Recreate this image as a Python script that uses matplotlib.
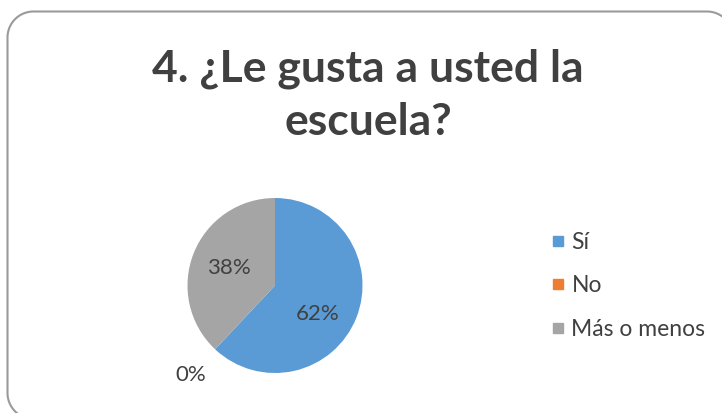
import numpy as np
import matplotlib
matplotlib.use("Agg")
import matplotlib.pyplot as plt
from matplotlib.path import Path
from matplotlib.patches import PathPatch
from matplotlib.lines import Line2D

title = "4. ¿Le gusta a usted la\nescuela?"
categories = ["Sí", "No", "Más o menos"]
values = [62, 0, 38]
labels_pct = ["62%", "0%", "38%"]
colors = ["#5B9BD5", "#ED7D31", "#A5A5A5"]

W, H = 722, 413
fig = plt.figure(figsize=(W / 100, H / 100), dpi=100)
fig.patch.set_facecolor("white")
FONT = "Lato"
TXT = "#404040"


def rounded_rect(x0, y0, x1, y1, rad, n=24):
    # pixel coords, y measured downward from top
    pts = []
    corners = [(x1 - rad, y0 + rad, -90, 0), (x1 - rad, y1 - rad, 0, 90),
               (x0 + rad, y1 - rad, 90, 180), (x0 + rad, y0 + rad, 180, 270)]
    for cxp, cyp, a0, a1 in corners:
        t = np.deg2rad(np.linspace(a0, a1, n))
        pts.extend(zip(cxp + rad * np.cos(t), cyp + rad * np.sin(t)))
    pts.append(pts[0])
    return Path(np.array(pts))


# background axes in pixel units for the rounded chart border
bg = fig.add_axes([0, 0, 1, 1])
bg.set_xlim(0, W)
bg.set_ylim(H, 0)
bg.axis("off")
bg.add_patch(PathPatch(rounded_rect(7.5, 11.5, 733, 419, 26),
                       facecolor="none", edgecolor="#9a9a9a", linewidth=1.5,
                       clip_on=True))

fig.text(368 / W, 1 - 95 / H, title, ha="center", va="center",
         fontsize=32, fontweight="bold", color=TXT, family=FONT,
         linespacing=1.38)

# pie
cx, cy, r = 275, 285.5, 87.5
ax = fig.add_axes([(cx - r) / W, (H - cy - r) / H, 2 * r / W, 2 * r / H])
ax.pie(values, colors=colors, startangle=90, counterclock=False, radius=1,
       wedgeprops=dict(linewidth=0))
ax.set_xlim(-1, 1)
ax.set_ylim(-1, 1)
ax.set_aspect("equal")
ax.axis("off")

# data labels
total = sum(values)
start = 90.0
dist = [0.58, 1.40, 0.56]
shift = [-12, 0, 1]
for v, lab, d, s in zip(values, labels_pct, dist, shift):
    span = v / total * 360
    if v == 0:
        ang = start
    else:
        ang = start - span / 2 + s
    a = np.deg2rad(ang)
    ax.text(d * np.cos(a), d * np.sin(a), lab, ha="center", va="center",
            fontsize=16, color=TXT, family=FONT, clip_on=False)
    start -= span

handles = [Line2D([0], [0], marker="s", linestyle="none", markersize=7,
                  markerfacecolor=c, markeredgecolor=c) for c in colors]
leg = fig.legend(handles, categories, loc="center left",
                 bbox_to_anchor=(552 / W, 1 - 286 / H), frameon=False,
                 prop=dict(family=FONT, size=16.5), labelcolor=TXT,
                 handlelength=0.55, handletextpad=0.3, labelspacing=1.0,
                 borderaxespad=0, borderpad=0)

fig.savefig("out.png", dpi=100, facecolor="white")
